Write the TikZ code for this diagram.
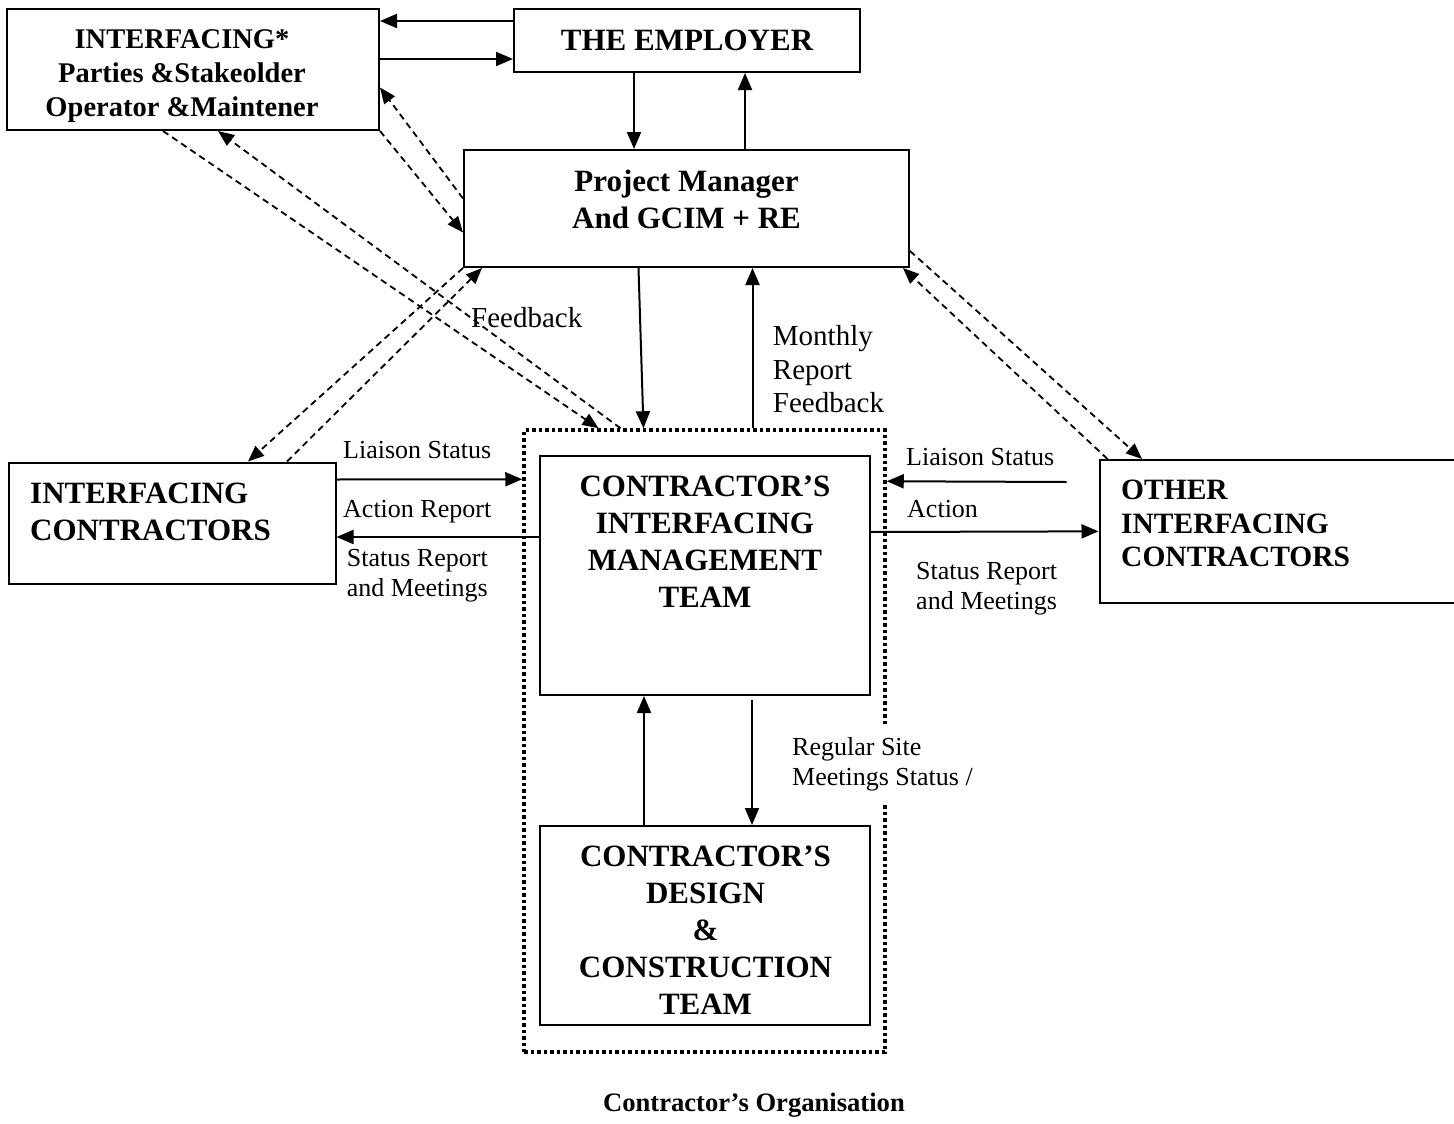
\documentclass[tikz,border=0pt]{standalone}
\usepackage{fontspec}
\setmainfont{Liberation Serif}
\usepackage{tikz}
\usetikzlibrary{arrows.meta}
\newcommand{\unitfont}{\fontsize{31}{37}\selectfont\bfseries}
\newcommand{\partiesfont}{\fontsize{28.5}{34}\selectfont\bfseries}
\newcommand{\otherfont}{\fontsize{29.5}{33.5}\selectfont\bfseries}
\newcommand{\notefont}{\fontsize{26}{30}\selectfont}
\newcommand{\reportfont}{\fontsize{29}{33.8}\selectfont}
\newcommand{\orgfont}{\fontsize{26.6}{30}\selectfont\bfseries}
\tikzset{
    unit/.style={draw, rectangle, line width=2pt, inner sep=0pt},
    unit-title/.style={inner sep=0pt, align=center, font=\unitfont},
    org-border/.style={draw, rectangle, line width=3.5pt, dash pattern=on 3.5pt off 3pt, inner sep=0pt},
    note/.style={inner sep=0pt, align=left, font=\notefont},
    flow/.style={-{Triangle[length=17pt, width=14pt]}, line width=2pt},
    liaison/.style={-{Triangle[length=16pt, width=13pt]}, line width=1.8pt, dash pattern=on 6.5pt off 4.5pt}
}

\begin{document}
\begin{tikzpicture}[x=1pt, y=-1pt]
    \useasboundingbox (0,0) rectangle (1454,1124);

    % boxes
    \path
        (193,69.5) node[unit, minimum width=372pt, minimum height=121pt] (parties) {}
        (687,40.5) node[unit, minimum width=346pt, minimum height=63pt, font=\unitfont] (employer) {THE EMPLOYER}
        (686.5,208.5) node[unit, minimum width=445pt, minimum height=117pt] (pm) {}
        (172,523) node[unit, minimum width=327pt, minimum height=121pt] (ic) {}
        (704.5,741) node[org-border, minimum width=361pt, minimum height=622pt] (org) {}
        (705,575.5) node[unit, minimum width=330pt, minimum height=239pt] (team) {}
        (705,925.5) node[unit, minimum width=330pt, minimum height=199pt] (dct) {}
        (1284.75,531.35) node[unit, minimum width=370.5pt, minimum height=142.7pt] (other) {};

    % box texts
    \path
        (182,76) node[unit-title, font=\partiesfont] (parties-text) {INTERFACING*\\Parties \&Stakeolder\\Operator \&Maintener}
        (686.5,199.5) node[unit-title] (pm-text) {Project Manager\\And GCIM + RE}
        (30,512) node[unit-title, anchor=west, align=left] (ic-text) {INTERFACING\\CONTRACTORS}
        (705,541.5) node[unit-title] (team-text) {CONTRACTOR’S\\INTERFACING\\MANAGEMENT\\TEAM}
        (705.5,930.5) node[unit-title] (dct-text) {CONTRACTOR’S\\DESIGN\\\&\\CONSTRUCTION\\TEAM}
        (1121,523.5) node[unit-title, anchor=west, align=left, font=\otherfont] (other-text) {OTHER\\INTERFACING\\CONTRACTORS};

    % employer and project manager
    \draw[flow] ([yshift=-13pt]employer.north west) -- ([yshift=-13pt]parties.north east);
    \draw[flow] ([yshift=-51pt]parties.north east) -- ([yshift=-51pt]employer.north west);
    \draw[flow] ([xshift=-53pt]employer.south) -- ([xshift=-53pt]employer.south |- pm.north);
    \draw[flow] ([xshift=58pt]employer.south |- pm.north) -- ([xshift=58pt]employer.south);
    \draw[flow] ([xshift=-48pt]pm.south) -- ([xshift=-61pt]org.north);
    \draw[flow] ([xshift=48pt]org.north) -- ([xshift=48pt]org.north |- pm.south);

    % dashed liaison lines
    \draw[liaison] (parties.south east) -- ([yshift=-24pt]pm.west);
    \draw[liaison] ([yshift=10pt]pm.west) -- ([yshift=-18pt]parties.east);
    \draw[liaison] ([xshift=-30pt]parties.south) -- ([xshift=-106pt]org.north);
    \draw[liaison] ([xshift=-84pt]org.north) -- ([xshift=25pt]parties.south);
    \draw[liaison] (pm.south west) -- ([xshift=76pt]ic.north);
    \draw[liaison] ([xshift=115pt]ic.north) -- ([xshift=19pt]pm.south west);
    \draw[liaison] ([yshift=17pt]pm.south east) -- ([xshift=43.5pt]other.north west);
    \draw[liaison] ([xshift=9pt]other.north west) -- ([xshift=-7pt]pm.south east);

    % interfacing contractors
    \draw[flow] ([yshift=-18pt]ic.north east) -- ([yshift=-51pt]org.north west);
    \draw[flow] ([yshift=38.5pt]team.west) -- ([yshift=-14pt]ic.east);
    \draw[flow] ([xshift=-32pt, yshift=-23pt]other.north west) -- ([yshift=-53pt]org.north east);
    \draw[flow] ([yshift=43.5pt]team.east) -- (other.west);

    % design and construction team
    \draw[flow] ([xshift=-61pt]dct.north) -- ([xshift=-61pt]team.south);
    \draw[flow, shorten <=4pt] ([xshift=47pt]team.south) -- ([xshift=47pt]dct.north);

    % labels
    \path
        (343,458) node[note, anchor=base west] (left-liaison) {Liaison Status}
        (343,517) node[note, anchor=base west] (left-action) {Action Report}
        (346.7,549) node[note, anchor=north west] (left-status) {Status Report\\and Meetings}
        (906,465) node[note, anchor=base west] (right-liaison) {Liaison Status}
        (907,517) node[note, anchor=base west] (right-action) {Action}
        (916,562) node[note, anchor=north west] (right-status) {Status Report\\and Meetings}
        (471,327) node[note, anchor=base west, font=\reportfont] (left-feedback) {Feedback}
        (772.7,325) node[note, anchor=north west, font=\reportfont] (monthly) {Monthly\\Report\\Feedback}
        (792,725) node[note, anchor=north west, fill=white, inner ysep=12pt] (site-meetings) {Regular Site\\Meetings Status /}
        (754,1111.7) node[anchor=base, inner sep=0pt, font=\orgfont] (org-caption) {Contractor’s Organisation};
\end{tikzpicture}
\end{document}
